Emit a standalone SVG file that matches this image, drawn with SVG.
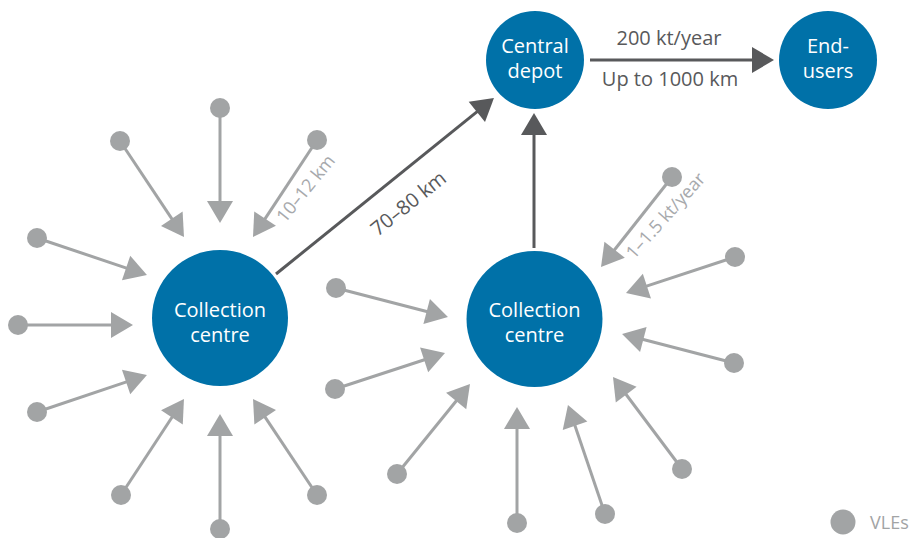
<svg xmlns="http://www.w3.org/2000/svg" width="916" height="538" viewBox="0 0 916 538">
  <style>
    .hub { fill: #0071a8; }
    .hub-label { font-family: "Open Sans", "Liberation Sans", sans-serif; font-size: 20px; fill: #ffffff; text-anchor: middle; }
    .vle { fill: #a2a4a5; }
    .feed { stroke: #a2a4a5; stroke-width: 3; fill: none; marker-end: url(#head-light); }
    .trunk { stroke: #58595b; stroke-width: 3; fill: none; marker-end: url(#head-dark); }
    .label-dark { font-family: "Open Sans", "Liberation Sans", sans-serif; font-size: 20px; fill: #58595b; text-anchor: middle; }
    .label-light { font-family: "Open Sans", "Liberation Sans", sans-serif; font-size: 18px; fill: #a7a9ac; text-anchor: middle; dominant-baseline: central; }
  </style>
  <defs>
    <marker id="head-light" markerUnits="userSpaceOnUse" markerWidth="22" markerHeight="26" refX="2" refY="13" orient="auto" overflow="visible">
      <path d="M0,0 L22,13 L0,26 Z" fill="#a2a4a5"/>
    </marker>
    <marker id="head-dark" markerUnits="userSpaceOnUse" markerWidth="22" markerHeight="26" refX="2" refY="13" orient="auto" overflow="visible">
      <path d="M0,0 L22,13 L0,26 Z" fill="#58595b"/>
    </marker>
  </defs>

  <!-- connectors -->
  <g id="connectors">
    <!-- feeders into the left collection centre -->
    <line class="feed" x1="220" y1="108" x2="220" y2="203"/>
    <line class="feed" x1="120" y1="141" x2="172.9" y2="220.4"/>
    <line class="feed" x1="317" y1="140" x2="264" y2="220.3"/>
    <line class="feed" x1="37" y1="238" x2="128" y2="268.6"/>
    <line class="feed" x1="18" y1="325" x2="113" y2="325"/>
    <line class="feed" x1="37" y1="412" x2="128" y2="381.4"/>
    <line class="feed" x1="121" y1="495" x2="173" y2="415.7"/>
    <line class="feed" x1="220" y1="529" x2="220" y2="434"/>
    <line class="feed" x1="317" y1="495" x2="264.1" y2="415.6"/>
    <!-- feeders into the right collection centre -->
    <line class="feed" x1="336" y1="288" x2="428.6" y2="312"/>
    <line class="feed" x1="335" y1="389" x2="426" y2="359.2"/>
    <line class="feed" x1="397" y1="474" x2="457.4" y2="399.5"/>
    <line class="feed" x1="517" y1="523" x2="517" y2="427"/>
    <line class="feed" x1="605" y1="514" x2="574.4" y2="423.9"/>
    <line class="feed" x1="682" y1="469" x2="625" y2="393"/>
    <line class="feed" x1="735" y1="257" x2="645" y2="286.7"/>
    <line class="feed" x1="734" y1="363" x2="641.4" y2="339"/>
    <line class="feed" x1="672" y1="177" x2="613.4" y2="251.3"/>
    <!-- trunk transport -->
    <line class="trunk" x1="276" y1="274" x2="478.4" y2="110.6"/>
    <line class="trunk" x1="534" y1="248" x2="534" y2="133"/>
    <line class="trunk" x1="590" y1="60" x2="754" y2="60"/>
  </g>

  <!-- VLE sources -->
  <g id="vles">
    <circle class="vle" cx="220" cy="108" r="10"/>
    <circle class="vle" cx="120" cy="141" r="10"/>
    <circle class="vle" cx="317" cy="140" r="10"/>
    <circle class="vle" cx="37" cy="238" r="10"/>
    <circle class="vle" cx="18" cy="325" r="10"/>
    <circle class="vle" cx="37" cy="412" r="10"/>
    <circle class="vle" cx="121" cy="495" r="10"/>
    <circle class="vle" cx="220" cy="529" r="10"/>
    <circle class="vle" cx="317" cy="495" r="10"/>
    <circle class="vle" cx="336" cy="288" r="10"/>
    <circle class="vle" cx="335" cy="389" r="10"/>
    <circle class="vle" cx="397" cy="474" r="10"/>
    <circle class="vle" cx="517" cy="523" r="10"/>
    <circle class="vle" cx="605" cy="514" r="10"/>
    <circle class="vle" cx="682" cy="469" r="10"/>
    <circle class="vle" cx="735" cy="257" r="10"/>
    <circle class="vle" cx="734" cy="363" r="10"/>
    <circle class="vle" cx="672" cy="177" r="10"/>
  </g>

  <g id="collection-left">
    <circle class="hub" cx="220" cy="318" r="68"/>
    <text class="hub-label" x="220" y="317">Collection</text>
    <text class="hub-label" x="220" y="342">centre</text>
  </g>

  <g id="collection-right">
    <circle class="hub" cx="534.5" cy="319" r="68"/>
    <text class="hub-label" x="534.5" y="317">Collection</text>
    <text class="hub-label" x="534.5" y="342">centre</text>
  </g>

  <g id="central-depot">
    <circle class="hub" cx="535" cy="60" r="49"/>
    <text class="hub-label" x="535" y="53">Central</text>
    <text class="hub-label" x="535" y="78">depot</text>
  </g>

  <g id="end-users">
    <circle class="hub" cx="828" cy="60" r="49"/>
    <text class="hub-label" x="828" y="53">End-</text>
    <text class="hub-label" x="828" y="78">users</text>
  </g>

  <!-- connector labels -->
  <g id="labels">
    <text class="label-dark" x="669" y="45">200 kt/year</text>
    <text class="label-dark" x="670" y="86">Up to 1000 km</text>
    <text class="label-dark" font-size="21" dominant-baseline="central" transform="translate(408,203) rotate(-38.8)">70–80 km</text>
    <text class="label-light" font-size="18.5" transform="translate(305,188) rotate(-51)">10–12 km</text>
    <text class="label-light" transform="translate(665,215) rotate(-48)">1–1.5 kt/year</text>
  </g>

  <g id="legend">
    <circle class="vle" cx="843" cy="522" r="12.5"/>
    <text x="870" y="529" font-family="Open Sans, Liberation Sans, sans-serif" font-size="18" fill="#a2a4a5">VLEs</text>
  </g>
</svg>
